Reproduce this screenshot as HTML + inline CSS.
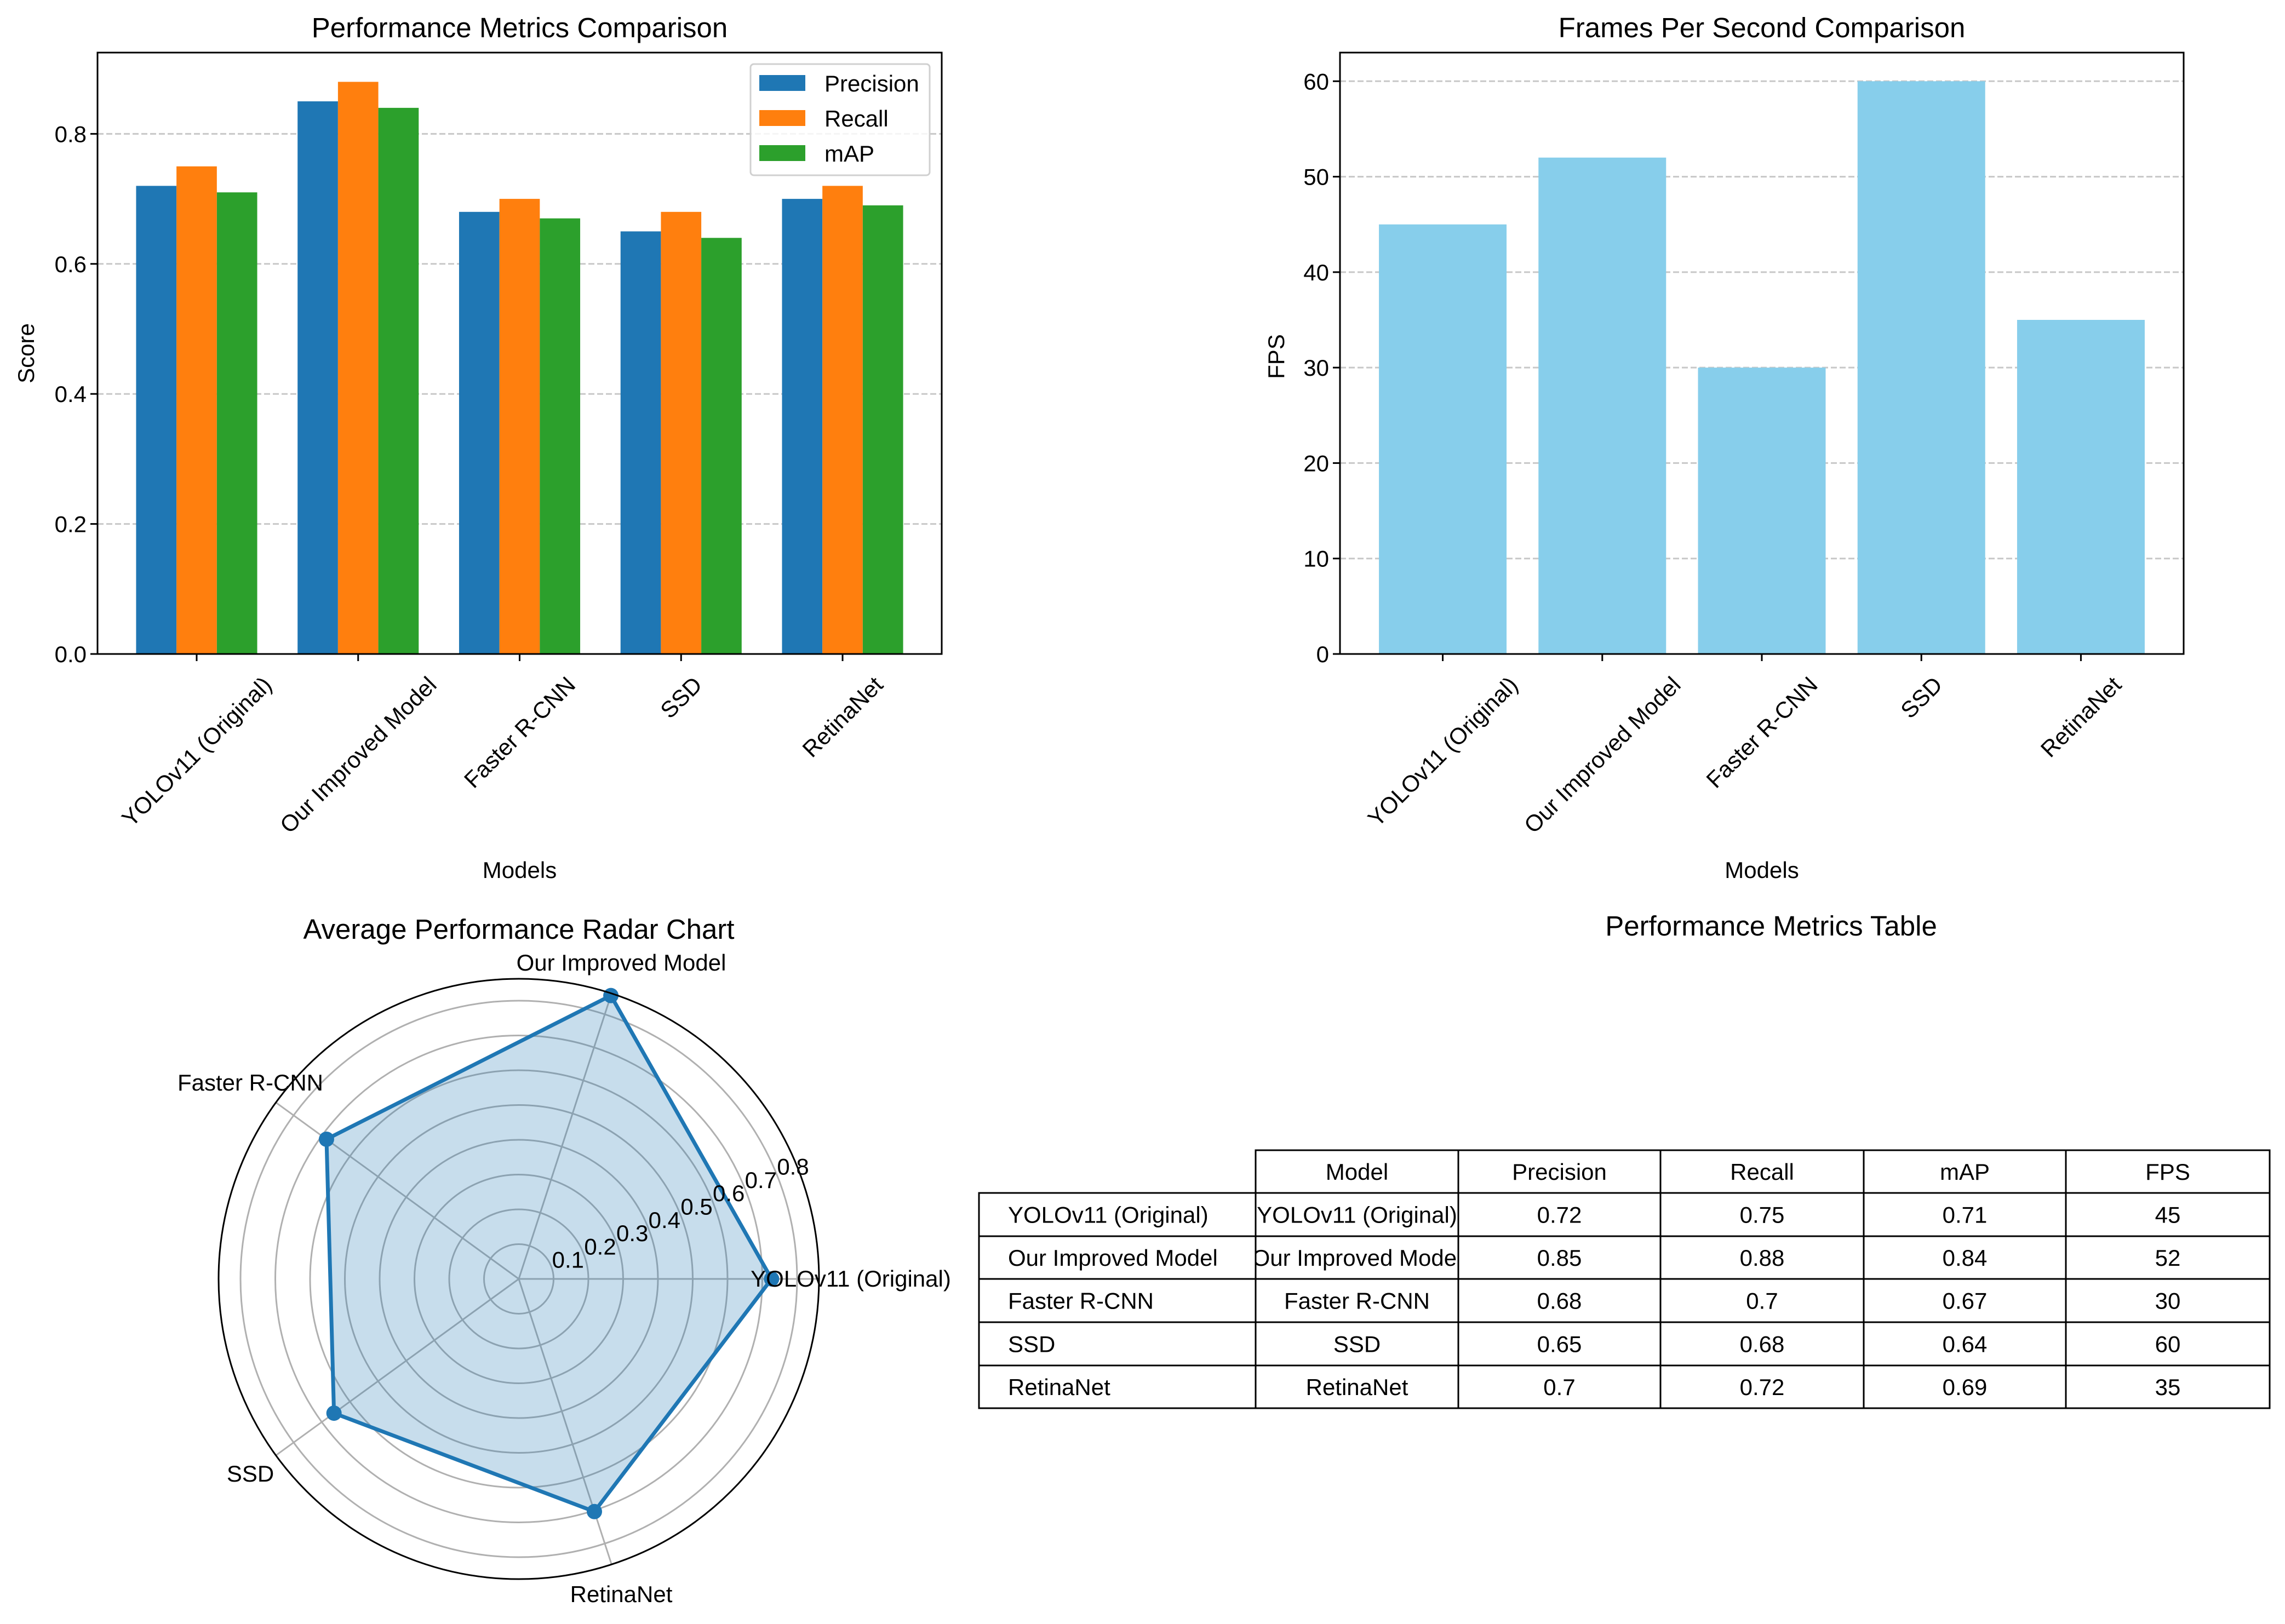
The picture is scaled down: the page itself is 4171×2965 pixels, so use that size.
<!DOCTYPE html>
<html><head><meta charset="utf-8"><style>
html,body{margin:0;padding:0;background:#fff}
svg{display:block;font-family:"Liberation Sans",sans-serif}
</style></head><body>
<svg id="fig" width="4171" height="2965" viewBox="0 0 4171 2965" xmlns="http://www.w3.org/2000/svg">
<g id="c1"></g>
<g id="c2"></g>
<g id="c3"></g>
<g id="c4"></g>
</svg>
<script>
const models = ["YOLOv11 (Original)","Our Improved Model","Faster R-CNN","SSD","RetinaNet"];
const precision = [0.72,0.85,0.68,0.65,0.70];
const recall = [0.75,0.88,0.70,0.68,0.72];
const mapv = [0.71,0.84,0.67,0.64,0.69];
const fps = [45,52,30,60,35];
const scoreTicks = [0.0,0.2,0.4,0.6,0.8];
const fpsTicks = [0,10,20,30,40,50,60];
const radarTicks = [0.1,0.2,0.3,0.4,0.5,0.6,0.7,0.8];
const tableHeader = ["Model","Precision","Recall","mAP","FPS"];

const NS="http://www.w3.org/2000/svg";
function el(parent,tag,attrs,text){const e=document.createElementNS(NS,tag);for(const k in attrs)e.setAttribute(k,attrs[k]);if(text!==undefined)e.textContent=text;parent.appendChild(e);return e;}
const FS=42, TFS=51;

function rotLabels(g,xs,labels,top){
  labels.forEach((lab,i)=>{
    const t=el(g,'text',{'font-size':FS,'text-anchor':'middle','dominant-baseline':'central'},lab);
    
    
    const w=t.getComputedTextLength();
    const h=(w+FS)*0.7071;
    t.setAttribute('transform',`translate(${xs[i]},${top+h/2}) rotate(-45)`);
  });
}

// ---------- Chart 1 ----------
(function(){
  const g=document.getElementById('c1');
  const L=178,R=1719,T=96,B=1194, xmin=-0.614,xmax=4.614, ymax=0.925;
  const X=v=>L+(v-xmin)/(xmax-xmin)*(R-L);
  const Y=v=>B-v/ymax*(B-T);
  scoreTicks.forEach(v=>{
    if(v>0){const gl=el(g,'line',{x1:L,x2:R,y1:Y(v),y2:Y(v),stroke:'#c8c8c8','stroke-width':3,'stroke-dasharray':'11,5'});
    }
  });
  const series=[precision,recall,mapv], cols=['#1f77b4','#ff7f0e','#2ca02c'], names=['precision','recall','map'];
  const bw=0.25;
  series.forEach((s,j)=>{
    s.forEach((v,i)=>{
      const x0=X(i+(j-1)*bw-bw/2), x1=X(i+(j-1)*bw+bw/2);
      const r=el(g,'rect',{x:x0,y:Y(v),width:x1-x0,height:B-Y(v),fill:cols[j]});
      
      
    });
  });
  el(g,'rect',{x:L,y:T,width:R-L,height:B-T,fill:'none',stroke:'#000','stroke-width':3});
  scoreTicks.forEach(v=>{
    el(g,'line',{x1:L-13,x2:L,y1:Y(v),y2:Y(v),stroke:'#000','stroke-width':3});
    const t=el(g,'text',{x:L-20,y:Y(v)+15,'font-size':FS,'text-anchor':'end'},v.toFixed(1));
    
  });
  const xs=models.map((m,i)=>X(i));
  xs.forEach(x=>el(g,'line',{x1:x,x2:x,y1:B,y2:B+13,stroke:'#000','stroke-width':3}));
  rotLabels(g,xs,models,1228);
  el(g,'text',{x:(L+R)/2,y:1603,'font-size':FS,'text-anchor':'middle',},'Models');
  el(g,'text',{x:0,y:0,'font-size':FS,'text-anchor':'middle',transform:'translate(62,645) rotate(-90)',},'Score');
  el(g,'text',{x:(L+R)/2,y:68,'font-size':TFS,'text-anchor':'middle',},'Performance Metrics Comparison');
  const lg=el(g,'g',{});
  el(lg,'rect',{x:1370,y:117,width:327,height:203,rx:6,fill:'#fff','fill-opacity':0.8,stroke:'#d0d0d0','stroke-width':3});
  ['Precision','Recall','mAP'].forEach((n,j)=>{
    const y=152+j*64;
    const e=el(lg,'g',{});
    
    
    el(e,'rect',{x:1386,y:y-15,width:84,height:29,fill:cols[j]});
    el(e,'text',{x:1505,y:y+15,'font-size':FS},n);
  });
})();

// ---------- Chart 2 ----------
(function(){
  const g=document.getElementById('c2');
  const L=2446,R=3986,T=96,B=1194,xmin=-0.644,xmax=4.644,ymax=63;
  const X=v=>L+(v-xmin)/(xmax-xmin)*(R-L);
  const Y=v=>B-v/ymax*(B-T);
  fpsTicks.forEach(v=>{ if(v>0){const gl=el(g,'line',{x1:L,x2:R,y1:Y(v),y2:Y(v),stroke:'#c8c8c8','stroke-width':3,'stroke-dasharray':'11,5'});
    }});
  fps.forEach((v,i)=>{
    const x0=X(i-0.4),x1=X(i+0.4);
    const r=el(g,'rect',{x:x0,y:Y(v),width:x1-x0,height:B-Y(v),fill:'#87ceeb'});
    
    
  });
  el(g,'rect',{x:L,y:T,width:R-L,height:B-T,fill:'none',stroke:'#000','stroke-width':3});
  fpsTicks.forEach(v=>{
    el(g,'line',{x1:L-13,x2:L,y1:Y(v),y2:Y(v),stroke:'#000','stroke-width':3});
    const t=el(g,'text',{x:L-20,y:Y(v)+15,'font-size':FS,'text-anchor':'end'},String(v));
    
  });
  const xs=models.map((m,i)=>X(i));
  xs.forEach(x=>el(g,'line',{x1:x,x2:x,y1:B,y2:B+13,stroke:'#000','stroke-width':3}));
  rotLabels(g,xs,models,1228);
  el(g,'text',{x:(L+R)/2,y:1603,'font-size':FS,'text-anchor':'middle',},'Models');
  el(g,'text',{x:0,y:0,'font-size':FS,'text-anchor':'middle',transform:'translate(2344,651) rotate(-90)',},'FPS');
  el(g,'text',{x:(L+R)/2,y:68,'font-size':TFS,'text-anchor':'middle',},'Frames Per Second Comparison');
})();

// ---------- Radar ----------
(function(){
  const g=document.getElementById('c3');
  const cx=947,cy=2335,rOuter=548,rmax=0.863;
  const Rf=v=>v/rmax*rOuter;
  const n=models.length;
  const ang=i=>i*2*Math.PI/n;
  const avg=models.map((m,i)=>(precision[i]+recall[i]+mapv[i])/3);
  radarTicks.forEach(v=>{const c=el(g,'circle',{cx,cy,r:Rf(v),fill:'none',stroke:'#b0b0b0','stroke-width':3});
    });
  models.forEach((m,i)=>{
    el(g,'line',{x1:cx,y1:cy,x2:cx+rOuter*Math.cos(ang(i)),y2:cy-rOuter*Math.sin(ang(i)),stroke:'#b0b0b0','stroke-width':3});
  });
  const pts=avg.map((v,i)=>[cx+Rf(v)*Math.cos(ang(i)),cy-Rf(v)*Math.sin(ang(i))]);
  const ps=pts.map(p=>p.join(',')).join(' ');
  const poly=el(g,'polygon',{points:ps,fill:'#1f77b4','fill-opacity':0.25,stroke:'none'});
  
  const line=el(g,'polygon',{points:ps,fill:'none',stroke:'#1f77b4','stroke-width':7,'stroke-linejoin':'round'});
  
  pts.forEach((p,i)=>{const c=el(g,'circle',{cx:p[0],cy:p[1],r:14,fill:'#1f77b4'});
    });
  el(g,'circle',{cx,cy,r:rOuter,fill:'none',stroke:'#000','stroke-width':3});
  const la=22.5*Math.PI/180;
  radarTicks.forEach(v=>{
    const t=el(g,'text',{x:cx+Rf(v)*Math.cos(la)+2,y:cy-Rf(v)*Math.sin(la)+4,'font-size':FS},String(v));
    
  });
  const lpos=[[1553,2349,'middle'],[1134,1772,'middle'],[457,1991,'middle'],[457,2705,'middle'],[1134,2925,'middle']];
  models.forEach((m,i)=>{
    const t=el(g,'text',{x:lpos[i][0],y:lpos[i][1],'font-size':FS,'text-anchor':lpos[i][2]},m);
    
  });
  el(g,'text',{x:947,y:1714,'font-size':TFS,'text-anchor':'middle',},'Average Performance Radar Chart');
})();

// ---------- Table ----------
(function(){
  const g=document.getElementById('c4');
  const colX=[1787,2292,2662,3031,3402,3771,4143];
  const rowY=[2100,2178,2257,2335,2414,2493,2571];
  el(g,'text',{x:3233,y:1708,'font-size':TFS,'text-anchor':'middle',},'Performance Metrics Table');
  const defs=el(g,'defs',{});
  const cp=el(defs,'clipPath',{id:'modelcol'});
  el(cp,'rect',{x:colX[1],y:rowY[0],width:colX[2]-colX[1],height:rowY[6]-rowY[0]});
  for(let c=1;c<6;c++){
    const r=el(g,'rect',{x:colX[c],y:rowY[0],width:colX[c+1]-colX[c],height:rowY[1]-rowY[0],fill:'#fff',stroke:'#000','stroke-width':3});
    
    el(g,'text',{x:(colX[c]+colX[c+1])/2,y:(rowY[0]+rowY[1])/2+15,'font-size':FS,'text-anchor':'middle'},tableHeader[c-1]);
  }
  models.forEach((m,i)=>{
    const y0=rowY[i+1],y1=rowY[i+2];
    const vals=[m,m,precision[i],recall[i],mapv[i],fps[i]];
    for(let c=0;c<6;c++){
      const r=el(g,'rect',{x:colX[c],y:y0,width:colX[c+1]-colX[c],height:y1-y0,fill:'#fff',stroke:'#000','stroke-width':3});
      
    }
    for(let c=0;c<6;c++){
      const cxm=(colX[c]+colX[c+1])/2;
      const t=el(g,'text',{x:c===0?1840:cxm,y:(y0+y1)/2+15,'font-size':FS,'text-anchor':c===0?'start':'middle'},String(vals[c]));
      if(c===1) t.setAttribute('clip-path','url(#modelcol)');
      
      
    }
  });
})();
</script>
</body></html>
